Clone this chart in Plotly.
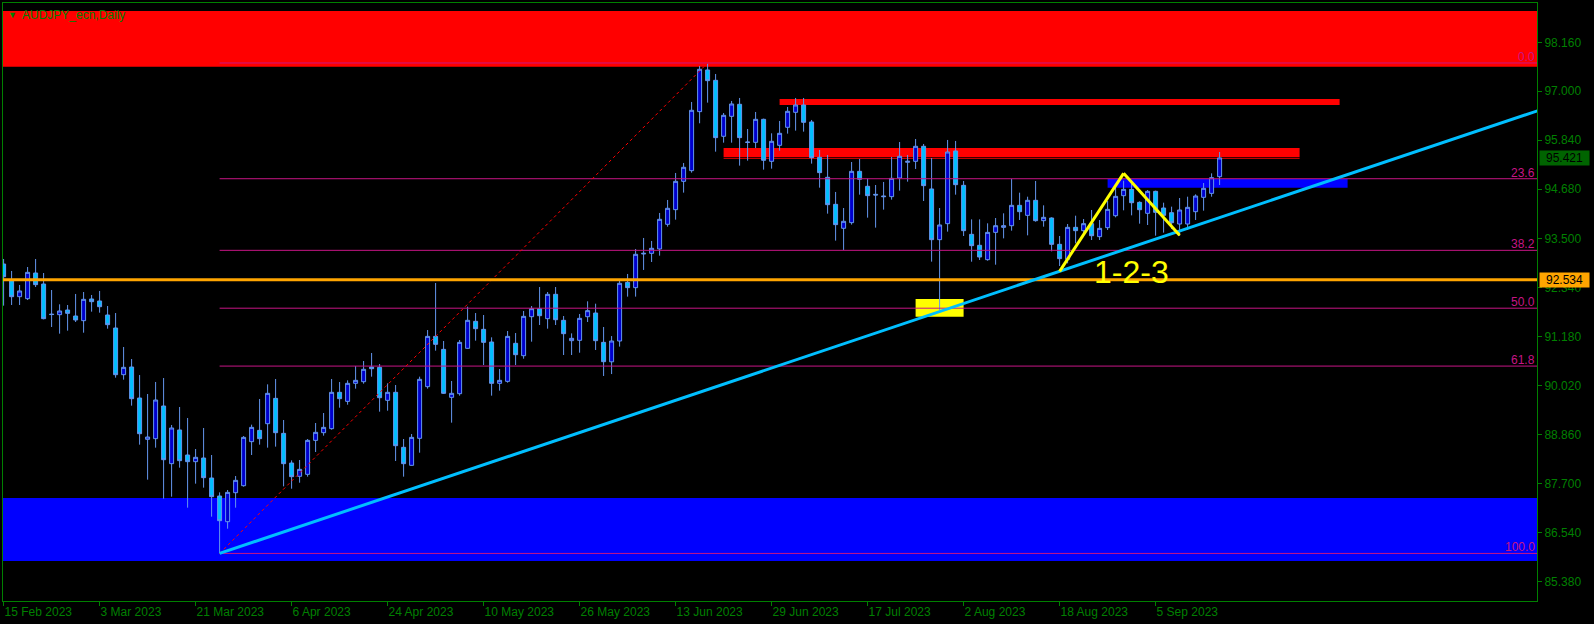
import plotly.graph_objects as go

# ---------------- data ----------------
DATE_LABELS = ["15 Feb 2023", "3 Mar 2023", "21 Mar 2023", "6 Apr 2023", "24 Apr 2023",
               "10 May 2023", "26 May 2023", "13 Jun 2023", "29 Jun 2023", "17 Jul 2023",
               "2 Aug 2023", "18 Aug 2023", "5 Sep 2023"]
DATE_BARS = [0, 12, 24, 36, 48, 60, 72, 84, 96, 108, 120, 132, 144]

Y_TICKS = [98.160, 97.000, 95.840, 94.680, 93.500, 92.340, 91.180, 90.020, 88.860, 87.700, 86.540, 85.380]
Y_TICK_TEXT = ["98.160", "97.000", "95.840", "94.680", "93.500", "92.340", "91.180", "90.020",
               "88.860", "87.700", "86.540", "85.380"]

OPEN = [92.907, 92.512, 92.133, 92.086, 92.694, 92.433, 91.720, 91.707, 91.817, 91.675,
        91.565, 92.078, 92.031, 91.699, 91.391, 90.285, 90.467, 89.732, 88.753, 88.769,
        89.543, 88.177, 88.975, 88.382, 88.224, 88.311, 87.837, 87.410, 86.802, 87.489,
        87.655, 88.698, 88.966, 89.124, 89.724, 88.895, 88.192, 87.877, 87.924, 88.729,
        88.911, 89.006, 89.867, 89.653, 90.080, 90.119, 90.467, 90.459, 89.677, 89.867,
        88.564, 88.137, 88.777, 90.001, 91.193, 90.885, 89.748, 89.835, 90.909, 91.549,
        91.359, 91.059, 90.080, 90.127, 91.028, 90.735, 91.659, 91.849, 91.612, 92.189,
        91.573, 91.091, 91.099, 91.659, 91.746, 91.051, 90.590, 91.083, 92.473, 92.347,
        93.145, 93.160, 93.263, 93.848, 94.195, 94.866, 95.119, 96.517, 97.504, 97.259,
        95.933, 96.406, 96.691, 95.798, 95.790, 96.335, 95.340, 95.719, 96.146, 96.501,
        96.675, 96.272, 95.435, 94.961, 94.321, 93.753, 93.887, 95.103, 94.748, 94.558,
        94.519, 94.503, 94.945, 95.317, 95.340, 95.696, 94.685, 93.484, 93.863, 95.585,
        94.771, 93.610, 93.350, 93.010, 93.657, 93.776, 93.815, 94.297, 94.060, 94.416,
        93.934, 93.997, 93.373, 93.018, 93.776, 93.697, 93.863, 93.555, 93.768, 94.052,
        94.526, 94.676, 94.368, 94.108, 94.629, 94.234, 94.123, 93.855, 93.855, 94.147,
        94.487, 94.581, 94.976]
HIGH = [93.026, 92.742, 92.410, 92.836, 93.026, 92.694, 92.291, 91.952, 91.936, 92.197,
        92.244, 92.173, 92.268, 91.912, 91.746, 90.941, 90.656, 90.277, 89.827, 90.112,
        90.206, 89.093, 89.519, 89.259, 88.524, 89.022, 88.382, 87.497, 87.553, 87.884,
        88.832, 89.101, 89.709, 90.056, 90.183, 89.211, 88.255, 88.263, 88.761, 89.140,
        89.377, 90.183, 90.111, 90.151, 90.491, 90.609, 90.799, 90.538, 90.080, 90.040,
        88.761, 88.879, 90.238, 91.343, 92.457, 91.083, 90.135, 91.107, 91.896, 91.746,
        91.699, 91.170, 90.419, 91.320, 91.272, 91.794, 91.912, 92.362, 92.244, 92.362,
        91.675, 91.264, 91.723, 92.023, 91.967, 91.415, 91.200, 92.530, 92.671, 93.263,
        93.524, 93.453, 94.116, 94.424, 95.064, 95.301, 96.746, 97.599, 97.670, 97.409,
        96.485, 96.770, 96.841, 96.106, 96.509, 96.351, 96.004, 96.296, 96.628, 96.841,
        96.841, 96.320, 95.609, 95.490, 94.614, 94.234, 95.324, 95.396, 94.930, 94.779,
        94.851, 95.443, 95.798, 95.490, 95.869, 95.751, 95.419, 94.234, 95.846, 95.822,
        94.874, 93.965, 93.965, 93.871, 93.997, 94.108, 94.921, 94.597, 94.502, 94.874,
        94.297, 94.013, 93.571, 93.855, 94.052, 93.973, 94.187, 93.950, 94.400, 94.716,
        94.882, 94.818, 94.392, 94.660, 94.645, 94.360, 94.266, 94.471, 94.502, 94.558,
        94.826, 95.055, 95.561]
LOW = [91.920, 91.936, 91.936, 92.054, 92.362, 91.596, 91.415, 91.257, 91.328, 91.533,
       91.280, 91.778, 91.754, 91.375, 90.214, 90.167, 89.551, 88.627, 87.798, 88.556,
       87.347, 87.395, 88.082, 87.134, 87.703, 87.608, 86.921, 86.050, 86.636, 87.134,
       87.632, 88.382, 88.627, 88.556, 88.580, 87.639, 87.584, 87.726, 87.869, 88.453,
       88.840, 88.982, 89.503, 89.574, 89.954, 90.072, 90.238, 89.409, 89.432, 88.240,
       87.869, 88.129, 88.437, 89.954, 90.854, 89.827, 89.148, 89.788, 90.901, 91.091,
       90.514, 89.788, 89.906, 90.096, 90.514, 90.664, 91.067, 91.462, 91.375, 91.462,
       90.751, 90.751, 90.806, 91.533, 90.870, 90.254, 90.300, 90.950, 92.134, 92.134,
       92.766, 92.955, 93.105, 93.792, 93.958, 94.598, 95.072, 96.241, 96.730, 95.569,
       95.782, 95.782, 95.238, 95.356, 95.656, 95.143, 95.166, 95.593, 95.996, 96.067,
       96.043, 95.285, 94.716, 94.100, 93.461, 93.239, 93.840, 94.550, 94.005, 93.769,
       94.195, 94.432, 94.645, 94.858, 95.159, 94.400, 92.963, 91.817, 93.674, 94.550,
       93.571, 92.962, 93.002, 92.986, 92.891, 93.515, 93.697, 93.950, 93.586, 93.910,
       93.792, 93.207, 92.860, 92.923, 93.397, 93.571, 93.476, 93.476, 93.713, 94.013,
       94.179, 94.060, 93.863, 93.831, 93.578, 93.650, 93.736, 93.571, 93.713, 93.950,
       94.171, 94.502, 94.779]
CLOSE = [92.607, 92.133, 92.268, 92.710, 92.418, 91.612, 91.710, 91.794, 91.738, 91.581,
         92.070, 92.015, 91.896, 91.470, 90.285, 90.459, 89.717, 88.887, 88.808, 89.685,
         88.271, 89.022, 88.248, 88.224, 88.327, 87.845, 87.395, 86.826, 87.497, 87.782,
         88.800, 89.037, 88.769, 89.843, 88.911, 88.177, 87.869, 88.042, 88.729, 88.919,
         89.037, 89.867, 89.717, 90.080, 90.151, 90.412, 90.427, 89.740, 89.867, 88.603,
         88.177, 88.800, 90.175, 91.193, 91.004, 89.843, 89.843, 91.051, 91.573, 91.375,
         91.051, 90.080, 90.151, 91.193, 90.759, 91.667, 91.849, 91.683, 92.189, 91.588,
         91.257, 91.146, 91.620, 91.802, 91.091, 90.593, 91.083, 92.450, 92.347, 93.137,
         93.160, 93.279, 93.966, 94.227, 94.866, 95.198, 96.549, 97.520, 97.251, 95.901,
         96.430, 96.699, 95.901, 95.790, 96.335, 95.364, 95.814, 96.004, 96.525, 96.675,
         96.264, 95.427, 95.072, 94.313, 93.840, 93.919, 95.103, 94.914, 94.527, 94.543,
         94.503, 94.937, 95.459, 95.340, 95.696, 94.764, 93.484, 93.832, 95.561, 94.787,
         93.697, 93.342, 93.073, 93.657, 93.815, 93.815, 94.297, 94.147, 94.416, 93.934,
         94.013, 93.373, 93.034, 93.776, 93.697, 93.863, 93.578, 93.752, 94.202, 94.510,
         94.676, 94.360, 94.194, 94.629, 94.131, 94.060, 93.886, 94.187, 94.250, 94.518,
         94.700, 94.953, 95.421]

# chart objects (bar index / price)
FIB_BARS = [27, 88]                 # anchor bars of the fibonacci (low -> high)
FIB_PRICES = [86.05, 97.67]
FIB_LEVELS = [0.0, 23.6, 38.2, 50.0, 61.8, 100.0]
FIB_TEXT = ["0.0", "23.6", "38.2", "50.0", "61.8", "100.0"]

TREND_BARS = [27, 132]
TREND_PRICES = [86.05, 92.734]

PATTERN_BARS = [132, 140, 147]
PATTERN_PRICES = [92.734, 95.056, 93.587]
PATTERN_TEXT = "1-2-3"
PATTERN_TEXT_POS = [141, 92.72]

HLINE_PRICE = 92.534
LAST_PRICE = 95.421

ZONE_TOP = [97.58, 98.90]
ZONE_BOTTOM = [85.87, 87.363]
RED_BAND_1 = dict(bars=[97, 167], prices=[96.674, 96.817])
RED_BAND_2 = dict(bars=[90, 162], prices=[95.442, 95.656], line=95.412)
BLUE_BAND = dict(bars=[138, 168], prices=[94.715, 94.921])
YELLOW_BOX = dict(bars=[114, 120], prices=[91.659, 92.078])

TITLE = "AUDJPY_ecn,Daily"

# ---------------- style ----------------
X_RANGE = [-0.075, 191.675]
Y_RANGE = [84.923, 99.091]
GREEN = "#008000"
MAGENTA = "#C71585"
WICK = "#6495ED"
FONT = "Liberation Sans, Arial, sans-serif"

fig = go.Figure()

bars = list(range(len(OPEN)))
fig.add_trace(go.Candlestick(
    x=bars, open=OPEN, high=HIGH, low=LOW, close=CLOSE,
    increasing=dict(fillcolor="#0000CD", line=dict(color=WICK, width=1)),
    decreasing=dict(fillcolor="#00BFFF", line=dict(color=WICK, width=1)),
    whiskerwidth=0, hoverinfo="skip", showlegend=False))

shapes = []
# background zones
shapes.append(dict(type="rect", xref="paper", yref="y", x0=0, x1=1, y0=ZONE_TOP[0], y1=ZONE_TOP[1],
                   fillcolor="#FF0000", line=dict(width=0), layer="below"))
shapes.append(dict(type="rect", xref="paper", yref="y", x0=0, x1=1, y0=ZONE_BOTTOM[0], y1=ZONE_BOTTOM[1],
                   fillcolor="#0000FF", line=dict(width=0), layer="below"))
for band, col in [(RED_BAND_1, "#FF0000"), (RED_BAND_2, "#FF0000"), (BLUE_BAND, "#0000FF"),
                  (YELLOW_BOX, "#FFFF00")]:
    shapes.append(dict(type="rect", xref="x", yref="y", x0=band["bars"][0], x1=band["bars"][1],
                       y0=band["prices"][0], y1=band["prices"][1],
                       fillcolor=col, line=dict(width=0), layer="below"))
shapes.append(dict(type="line", xref="x", yref="y", x0=RED_BAND_2["bars"][0], x1=RED_BAND_2["bars"][1],
                   y0=RED_BAND_2["line"], y1=RED_BAND_2["line"], line=dict(color="#FF0000", width=1),
                   layer="below"))

# fibonacci
lo, hi = FIB_PRICES
for lv in FIB_LEVELS:
    p = hi - (hi - lo) * lv / 100.0
    shapes.append(dict(type="line", xref="x", yref="y", x0=FIB_BARS[0], x1=X_RANGE[1], y0=p, y1=p,
                       line=dict(color=MAGENTA, width=1), layer="above"))
shapes.append(dict(type="line", xref="x", yref="y", x0=FIB_BARS[0], x1=FIB_BARS[1],
                   y0=FIB_PRICES[0], y1=FIB_PRICES[1],
                   line=dict(color="#FF0000", width=1, dash="dot"), layer="above"))

# horizontal line
shapes.append(dict(type="line", xref="paper", yref="y", x0=0, x1=1, y0=HLINE_PRICE, y1=HLINE_PRICE,
                   line=dict(color="#FFA500", width=3), layer="above"))

# trend line (ray extended to the right edge)
slope = (TREND_PRICES[1] - TREND_PRICES[0]) / (TREND_BARS[1] - TREND_BARS[0])
x_end = X_RANGE[1] + 5
y_end = TREND_PRICES[0] + slope * (x_end - TREND_BARS[0])
shapes.append(dict(type="line", xref="x", yref="y", x0=TREND_BARS[0], y0=TREND_PRICES[0],
                   x1=x_end, y1=y_end, line=dict(color="#00BFFF", width=3), layer="above"))

# 1-2-3 pattern
for k in range(len(PATTERN_BARS) - 1):
    shapes.append(dict(type="line", xref="x", yref="y", x0=PATTERN_BARS[k], y0=PATTERN_PRICES[k],
                       x1=PATTERN_BARS[k + 1], y1=PATTERN_PRICES[k + 1],
                       line=dict(color="#FFFF00", width=3), layer="above"))

annotations = []
for lv, t in zip(FIB_LEVELS, FIB_TEXT):
    p = hi - (hi - lo) * lv / 100.0
    annotations.append(dict(xref="paper", yref="y", x=1, y=p, text=t, showarrow=False,
                            xanchor="right", yanchor="bottom", xshift=0, yshift=-3,
                            font=dict(color=MAGENTA, size=12, family=FONT)))
annotations.append(dict(xref="x", yref="y", x=PATTERN_TEXT_POS[0], y=PATTERN_TEXT_POS[1],
                        text=PATTERN_TEXT, showarrow=False, xanchor="center", yanchor="middle",
                        font=dict(color="#FFFF00", size=32, family=FONT)))
annotations.append(dict(xref="paper", yref="paper", x=0, y=1, text=TITLE, showarrow=False,
                        xanchor="left", yanchor="top", xshift=17, yshift=-3,
                        font=dict(color=GREEN, size=12, family=FONT)))
annotations.append(dict(xref="paper", yref="paper", x=0, y=1, text="\u25BC", showarrow=False,
                        xanchor="left", yanchor="top", xshift=3, yshift=-5,
                        font=dict(color=GREEN, size=9, family=FONT)))
annotations.append(dict(xref="paper", yref="y", x=1, y=LAST_PRICE, text=f"{LAST_PRICE:.3f}",
                        showarrow=False, xanchor="left", yanchor="middle", xshift=2,
                        width=47, height=12, bgcolor="#006400", borderpad=1, align="center",
                        font=dict(color="#000000", size=12, family=FONT)))
annotations.append(dict(xref="paper", yref="y", x=1, y=HLINE_PRICE, text=f"{HLINE_PRICE:.3f}",
                        showarrow=False, xanchor="left", yanchor="middle", xshift=2,
                        width=47, height=12, bgcolor="#FFA500", borderpad=1, align="center",
                        font=dict(color="#000000", size=12, family=FONT)))

fig.update_layout(
    width=1594, height=624,
    margin=dict(l=3, r=57, t=3, b=23, pad=0),
    paper_bgcolor="#000000", plot_bgcolor="#000000",
    showlegend=False,
    boxgap=0.5, boxgroupgap=0,
    shapes=shapes, annotations=annotations,
    xaxis=dict(range=X_RANGE, showgrid=False, zeroline=False, showline=True, linecolor=GREEN,
               linewidth=1, mirror=True, ticks="outside", ticklen=4, tickcolor=GREEN,
               tickvals=DATE_BARS, ticktext=DATE_LABELS, ticklabelposition="outside right",
               tickfont=dict(color=GREEN, size=12, family=FONT),
               rangeslider=dict(visible=False), fixedrange=True),
    yaxis=dict(range=Y_RANGE, side="right", showgrid=False, zeroline=False, showline=True,
               linecolor=GREEN, linewidth=1, mirror=True, ticks="outside", ticklen=4,
               tickcolor=GREEN, tickvals=Y_TICKS, ticktext=Y_TICK_TEXT,
               tickfont=dict(color=GREEN, size=12, family=FONT), fixedrange=True),
)

fig.write_html("out.html", config={"displayModeBar": False},
               post_script="document.body.style.margin='0';document.body.style.background='#000';")
